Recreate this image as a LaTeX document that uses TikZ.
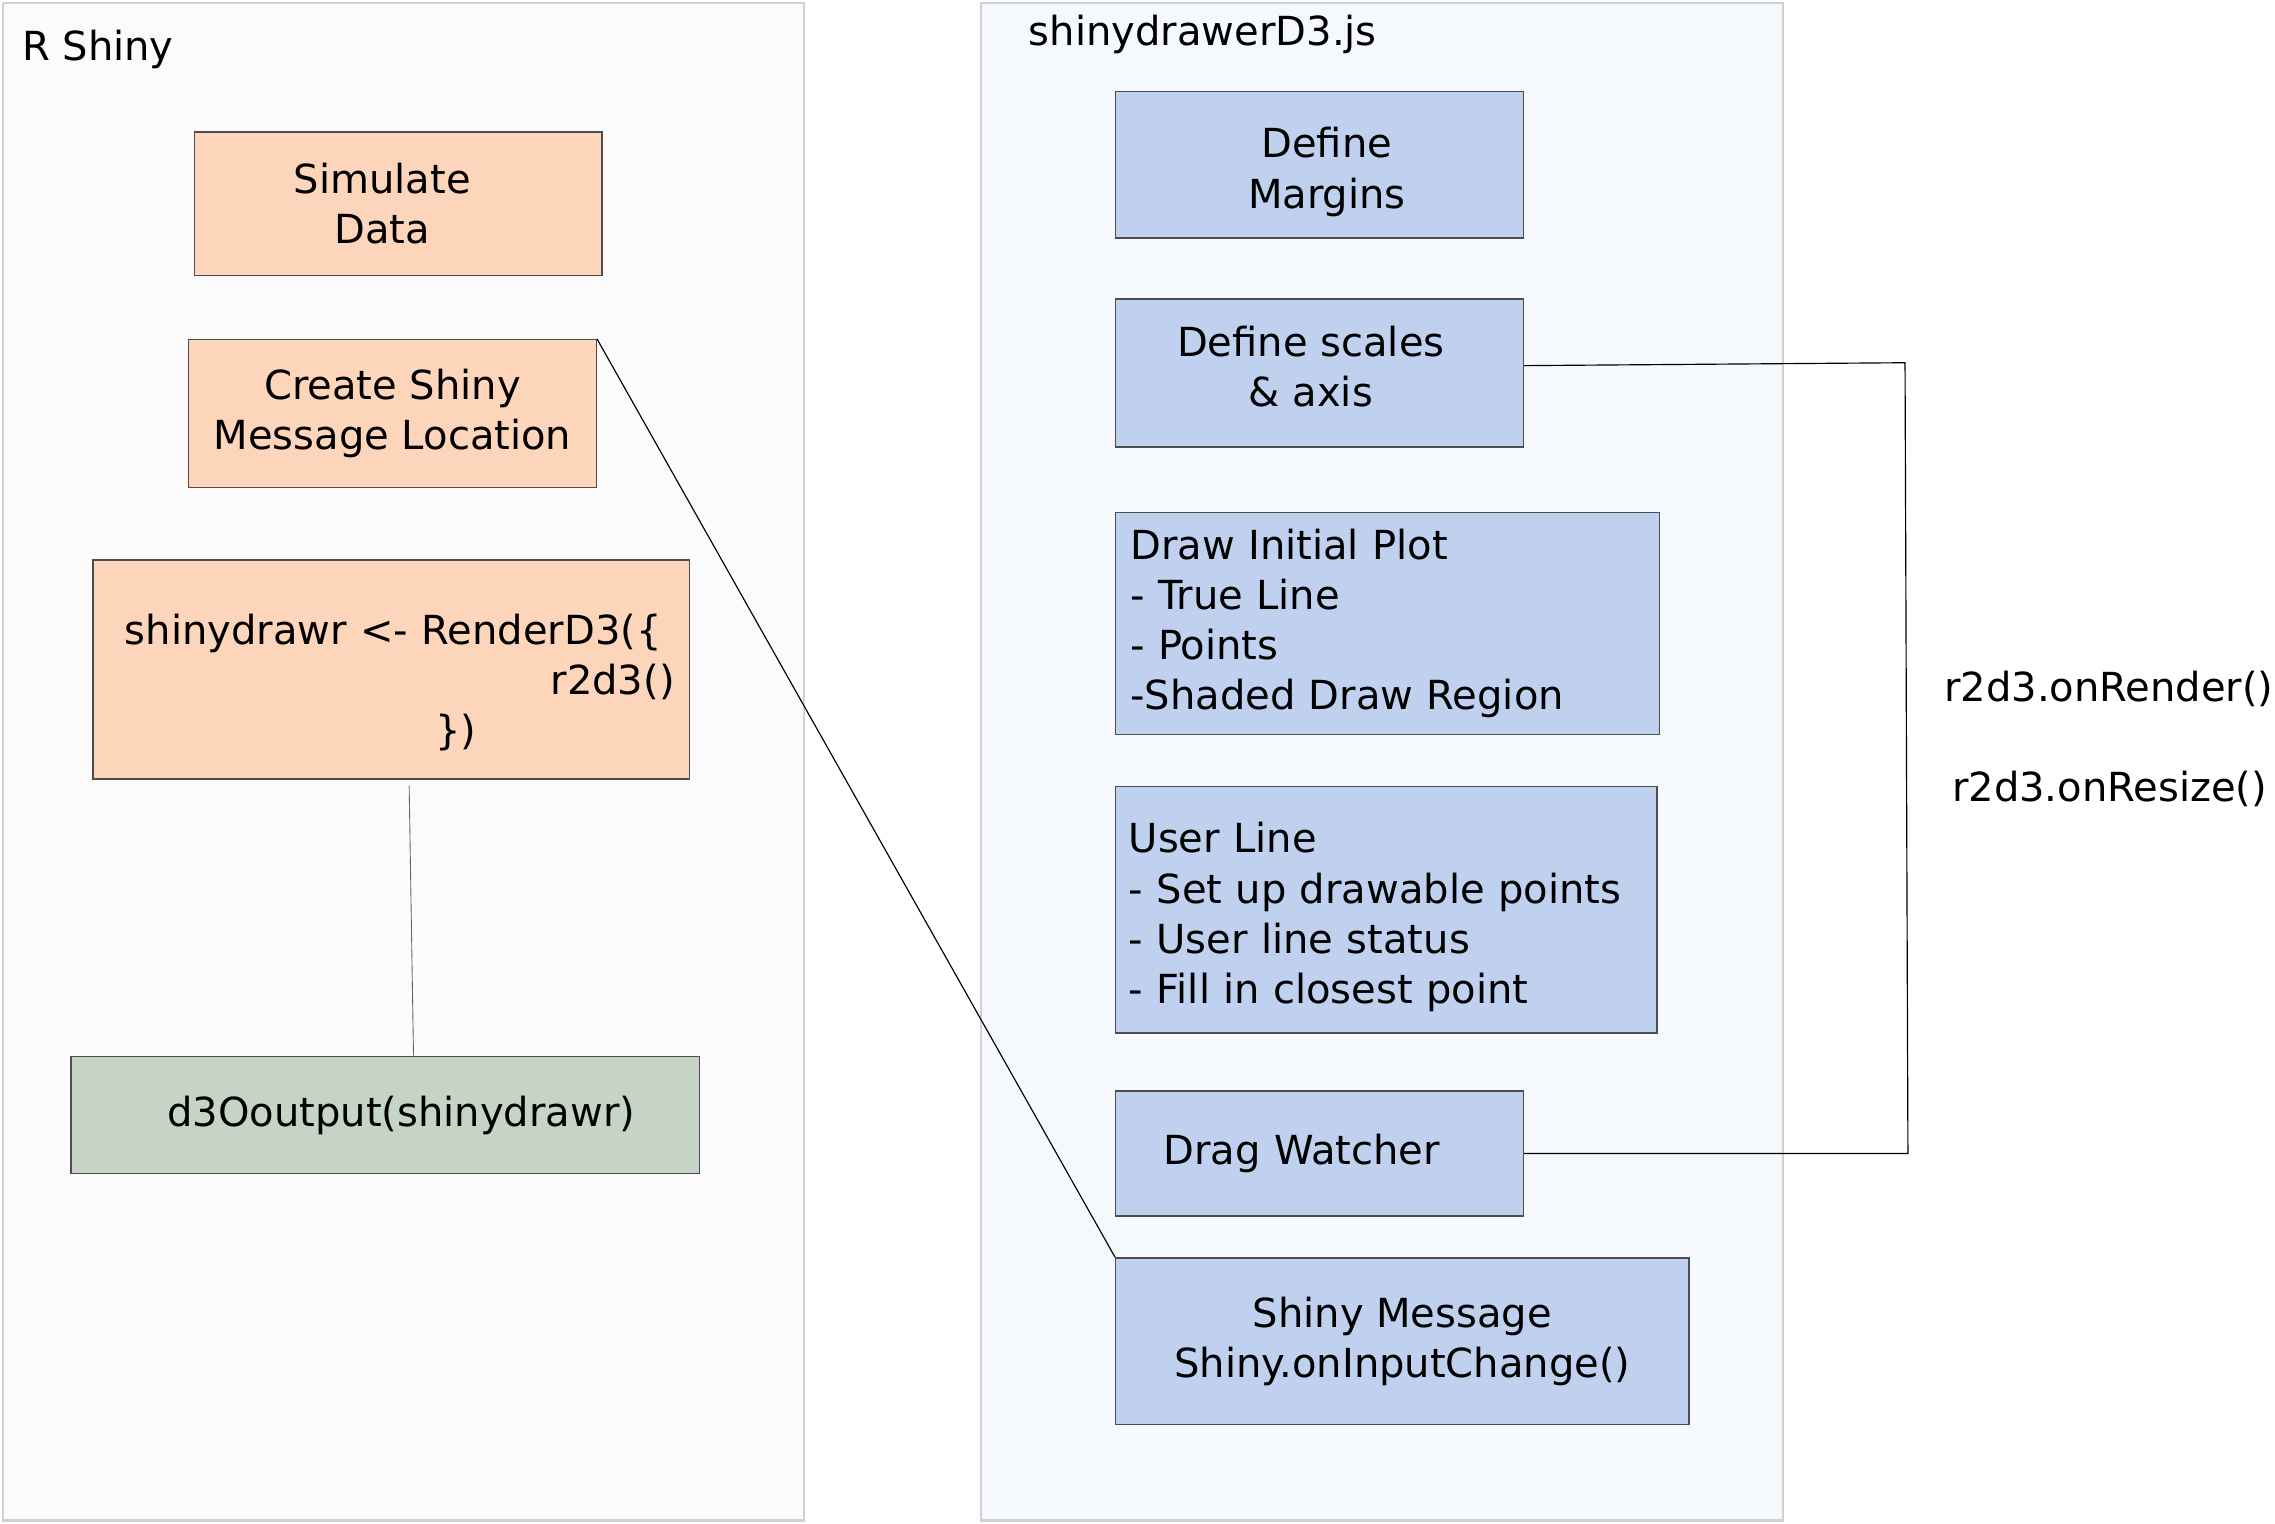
\documentclass[tikz,border=0pt]{standalone}
\usepackage{fontspec}
\setmainfont{DejaVu Sans}
\definecolor{panelL}{HTML}{FBFBFB}
\definecolor{panelR}{HTML}{F5F8FC}
\definecolor{panelB}{HTML}{D0D0D0}
\definecolor{peach}{HTML}{FDD5BA}
\definecolor{sage}{HTML}{C5D4C5}
\definecolor{skyb}{HTML}{BFD1EE}
\definecolor{boxline}{HTML}{4D4D4D}
\tikzset{
  txt/.style={font=\fontsize{27.6}{34.5}\selectfont, text=black},
  panel/.style={draw=panelB, line width=1.6pt, inner sep=0pt},
  rbox/.style={txt, draw=boxline, line width=0.9pt, fill=peach, inner sep=0pt, align=center},
  gbox/.style={txt, draw=boxline, line width=0.9pt, fill=sage, inner sep=0pt, align=center},
  bbox/.style={txt, draw=boxline, line width=0.9pt, fill=skyb, inner sep=0pt, align=center},
  conn/.style={draw=black, line width=0.8pt},
  connG/.style={draw=gray!80!black, line width=0.6pt}
}
\begin{document}
\begin{tikzpicture}[x=1pt,y=-1pt]
\useasboundingbox[fill=white] (0,0) rectangle (1568,1050);
% panels
\node[panel, fill=panelL, minimum width=552pt, minimum height=1046pt] (left) at (278,525) {};
\node[panel, fill=panelR, minimum width=553pt, minimum height=1046pt] (right) at (952.5,525) {};
\node[txt, anchor=west, inner sep=0pt] (ltitle) at (15,34) {R Shiny};
\node[txt, anchor=west, inner sep=0pt] (rtitle) at (709,24) {shinydrawerD3.js};
% left boxes
\node[rbox, minimum width=281pt, minimum height=99pt] (sim) at (274.5,140.5) {\hspace*{-22pt}Simulate\\\hspace*{-22pt}Data};
\node[rbox, minimum width=281pt, minimum height=102pt] (msg) at (270.5,285) {Create Shiny\\Message Location};
\node[rbox, minimum width=411pt, minimum height=151pt, text width=391pt, align=left] (render) at (269.5,461.5)
  {\hspace*{12pt}\rule{0pt}{39pt}shinydrawr <- RenderD3(\{\\\makebox[391pt][r]{r2d3()}\\\hspace*{226pt}\})};
\node[gbox, minimum width=433pt, minimum height=81pt] (out) at (265.5,768.5) {\hspace*{22pt}d3Ooutput(shinydrawr)};
% right boxes
\node[bbox, minimum width=281pt, minimum height=101pt] (marg) at (909.5,113.5) {\hspace*{10pt}\rule{0pt}{31pt}Define\\\hspace*{10pt}Margins};
\node[bbox, minimum width=281pt, minimum height=102pt] (scales) at (909.5,257) {\hspace*{-12pt}Define scales\\\hspace*{-12pt}\& axis\rule[-9pt]{0pt}{1pt}};
\node[bbox, minimum width=375pt, minimum height=153pt, text width=355pt, align=left] (plot) at (956.5,429.5)
  {Draw Initial Plot\\- True Line\\- Points\\-Shaded Draw Region};
\node[bbox, minimum width=373pt, minimum height=170pt, text width=355pt, align=left] (user) at (955.5,627)
  {\rule{0pt}{31pt}User Line\\- Set up drawable points\\- User line status\\- Fill in closest point};
\node[bbox, minimum width=281pt, minimum height=86pt, text width=215pt, align=left] (drag) at (909.5,795) {Drag Watcher};
\node[bbox, minimum width=395pt, minimum height=115pt] (shinymsg) at (966.5,924.5) {Shiny Message\\Shiny.onInputChange()};
% labels
\node[txt] (onrender) at (1453.5,475) {r2d3.onRender()};
\node[txt] (onresize) at (1454,544) {r2d3.onResize()};
% connectors
\coordinate (b1) at (1313,250);
\coordinate (b2) at (1315,795);
\draw[conn] ([yshift=5pt]scales.east) -- (b1) -- (b2) -- (drag.east);
\draw[conn] (msg.north east) -- (shinymsg.north west);
\draw[connG] ([xshift=12.5pt,yshift=-4pt]render.south) -- ([xshift=19.5pt]out.north);
\end{tikzpicture}
\end{document}
